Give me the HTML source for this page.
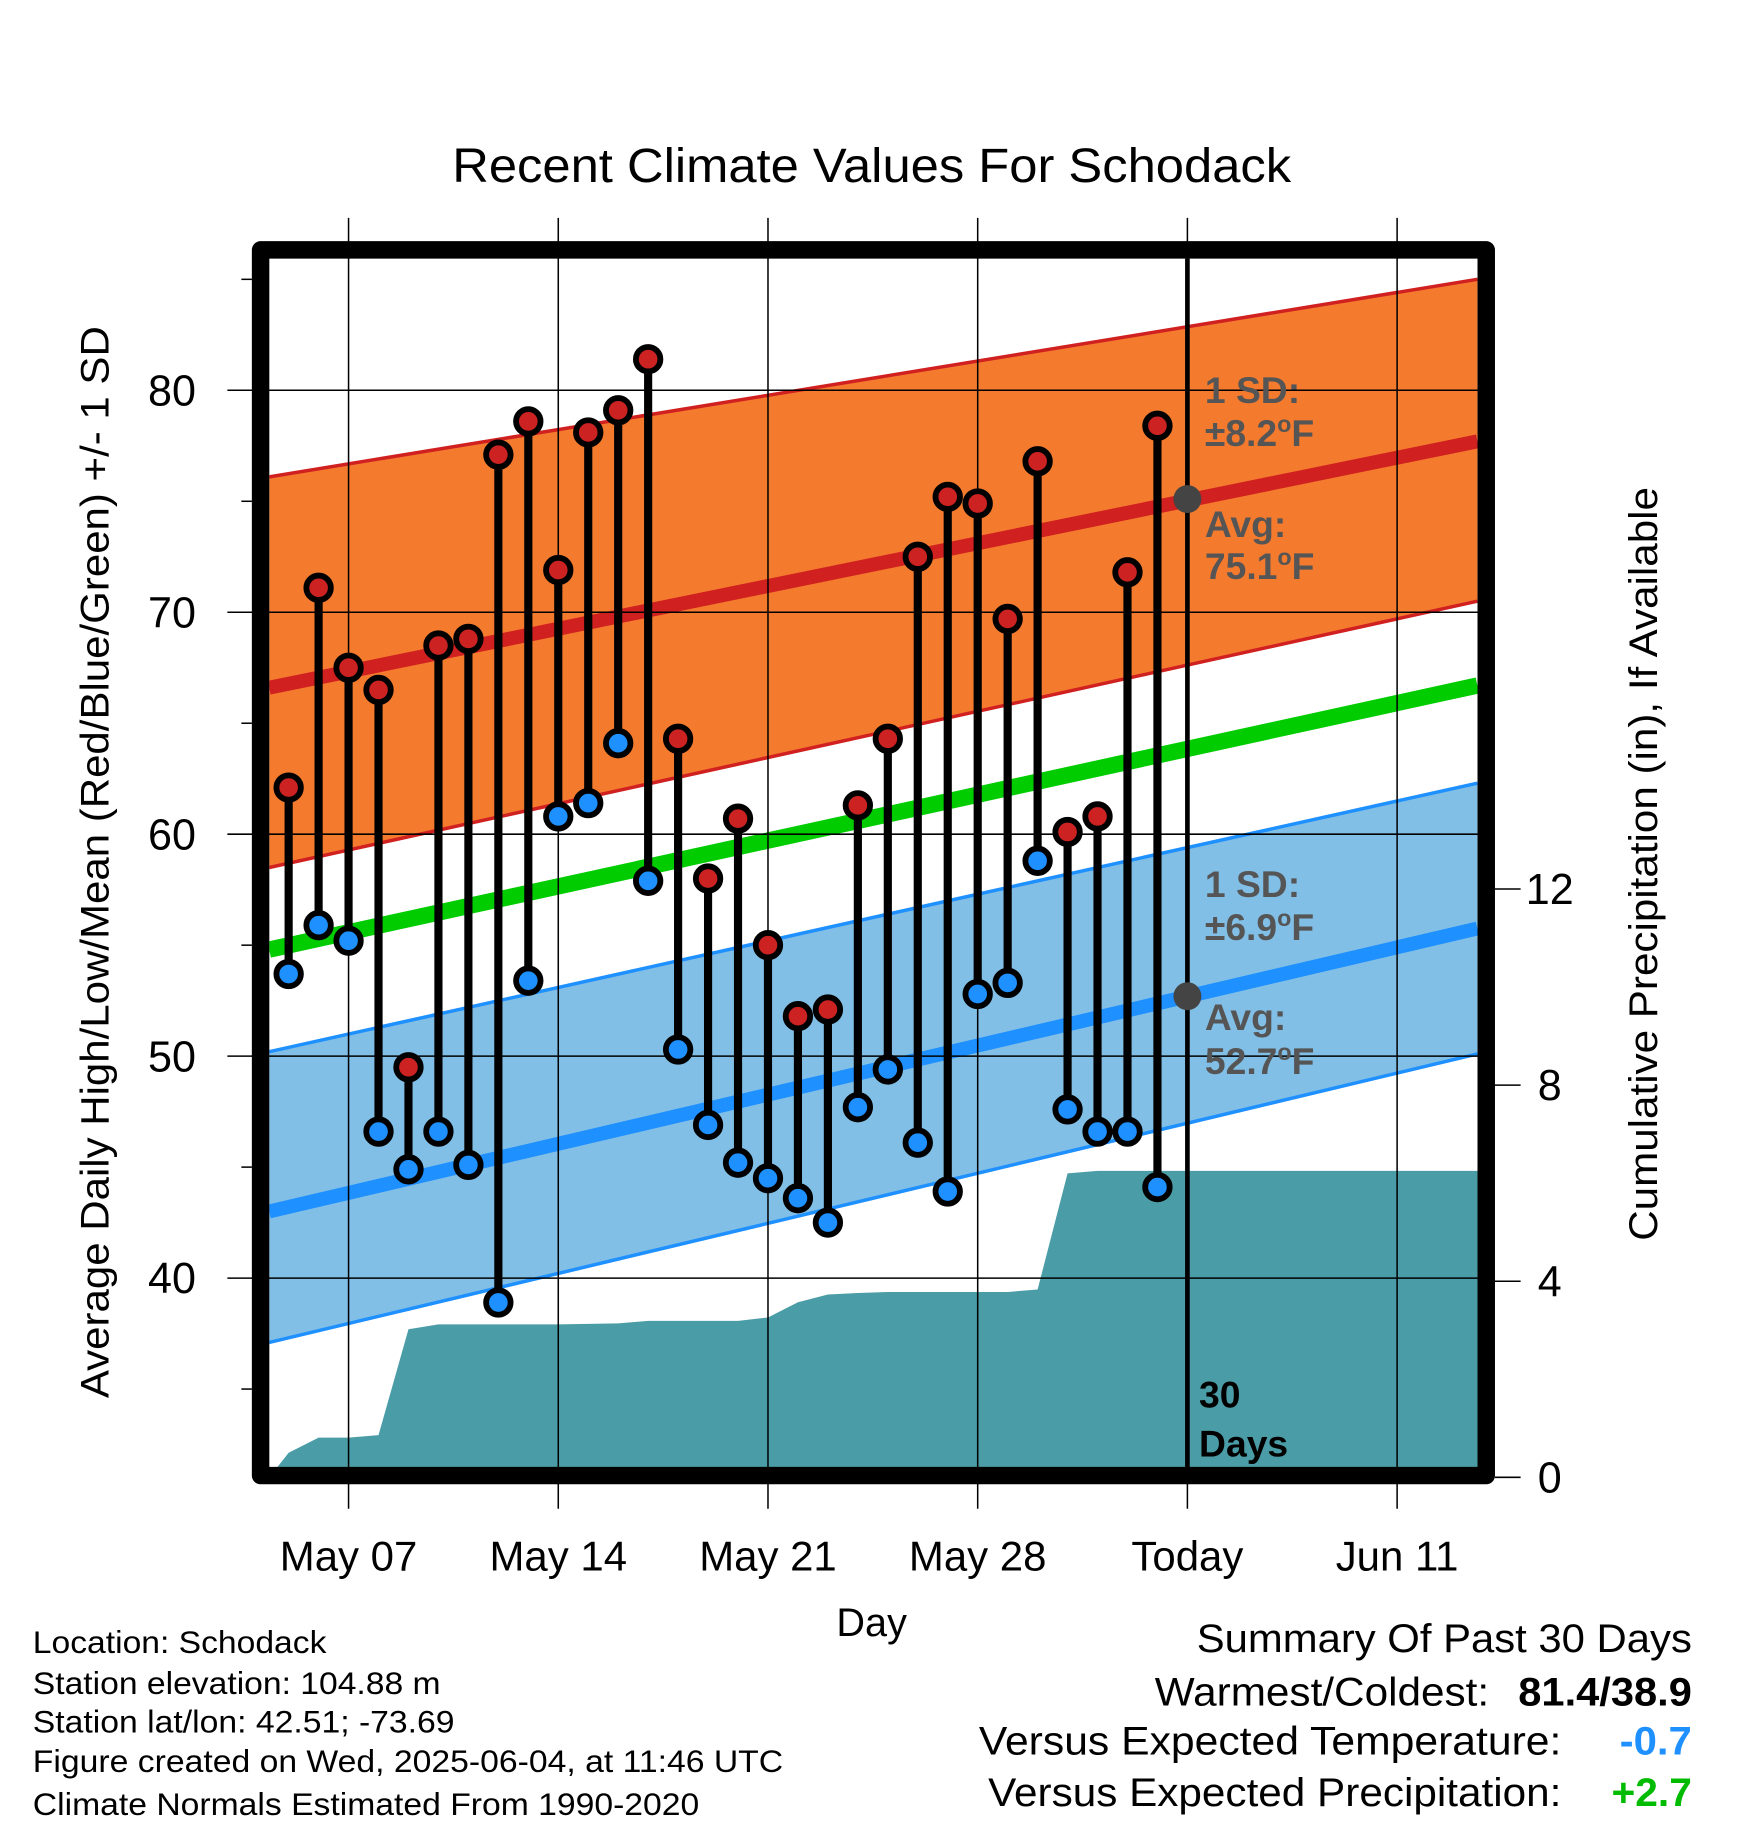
<!DOCTYPE html>
<html><head><meta charset="utf-8">
<style>
html,body{margin:0;padding:0;background:#fff;}
svg{display:block;font-family:"Liberation Sans",sans-serif;}
</style></head>
<body>
<svg id="chart" width="1748" height="1828" viewBox="0 0 1500 1569" xmlns="http://www.w3.org/2000/svg">
<rect width="1500" height="1569" fill="#fff"/>
<text x="388" y="156" font-size="41" textLength="720" lengthAdjust="spacingAndGlyphs">Recent Climate Values For Schodack</text>
<g id="plot"></g>
<text x="748" y="1404" font-size="34" text-anchor="middle">Day</text>
<text transform="translate(93,1200) rotate(-90)" font-size="34" textLength="920" lengthAdjust="spacingAndGlyphs">Average Daily High/Low/Mean (Red/Blue/Green) +/- 1 SD</text>
<text transform="translate(1422,1065) rotate(-90)" font-size="34" textLength="647" lengthAdjust="spacingAndGlyphs">Cumulative Precipitation (in), If Available</text>
<g font-size="27" lengthAdjust="spacingAndGlyphs">
<text x="28" y="1419" textLength="252" lengthAdjust="spacingAndGlyphs">Location: Schodack</text>
<text x="28" y="1454" textLength="350" lengthAdjust="spacingAndGlyphs">Station elevation: 104.88 m</text>
<text x="28" y="1487" textLength="362" lengthAdjust="spacingAndGlyphs">Station lat/lon: 42.51; -73.69</text>
<text x="28" y="1521" textLength="644" lengthAdjust="spacingAndGlyphs">Figure created on Wed, 2025-06-04, at 11:46 UTC</text>
<text x="28" y="1558" textLength="572" lengthAdjust="spacingAndGlyphs">Climate Normals Estimated From 1990-2020</text>
</g>
<g font-size="34">
<text x="1027" y="1418" textLength="425" lengthAdjust="spacingAndGlyphs">Summary Of Past 30 Days</text>
<text x="991" y="1464" textLength="287" lengthAdjust="spacingAndGlyphs">Warmest/Coldest:</text>
<text x="1303" y="1464" font-weight="bold" textLength="149" lengthAdjust="spacingAndGlyphs">81.4/38.9</text>
<text x="840" y="1506" textLength="500" lengthAdjust="spacingAndGlyphs">Versus Expected Temperature:</text>
<text x="1390" y="1506" font-weight="bold" fill="#1e90ff" textLength="62" lengthAdjust="spacingAndGlyphs">-0.7</text>
<text x="848" y="1550" textLength="492" lengthAdjust="spacingAndGlyphs">Versus Expected Precipitation:</text>
<text x="1383" y="1550" font-weight="bold" fill="#00bb00" textLength="69" lengthAdjust="spacingAndGlyphs">+2.7</text>
</g>
</svg>
<script>
const days = [-30,-29,-28,-27,-26,-25,-24,-23,-22,-21,-20,-19,-18,-17,-16,-15,-14,-13,-12,-11,-10,-9,-8,-7,-6,-5,-4,-3,-2,-1];
const highs = [62.1,71.1,67.5,66.5,49.5,68.5,68.8,77.1,78.6,71.9,78.1,79.1,81.4,64.3,58.0,60.7,55.0,51.8,52.1,61.3,64.3,72.5,75.2,74.9,69.7,76.8,60.1,60.8,71.8,78.4];
const lows = [53.7,55.9,55.2,46.6,44.9,46.6,45.1,38.9,53.4,60.8,61.4,64.1,57.9,50.3,46.9,45.2,44.5,43.6,42.5,47.7,49.4,46.1,43.9,52.8,53.3,58.8,47.6,46.6,46.6,44.1];
const precip = [0.5,0.81,0.81,0.86,3.02,3.12,3.12,3.12,3.12,3.12,3.13,3.14,3.19,3.19,3.19,3.19,3.26,3.57,3.73,3.76,3.78,3.78,3.78,3.78,3.78,3.83,6.2,6.25,6.25,6.25];
const normDays = [-30.65, 9.68];
const normHighAvg = [66.6, 77.7];
const normHighUpper = [76.1, 85.0];
const normHighLower = [58.5, 70.5];
const normMean = [54.8, 66.7];
const normLowAvg = [43.0, 55.75];
const normLowUpper = [50.2, 62.3];
const normLowLower = [37.1, 50.1];
const xTickDays = [-28,-21,-14,-7,0,7];
const xTickLabels = ["May 07","May 14","May 21","May 28","Today","Jun 11"];
const yTicks = [40,50,60,70,80];
const yMinorTicks = [35,45,55,65,75,85];
const pTicks = [0,4,8,12];
const todayHigh = 75.1, todayLow = 52.7;

const L=231,R=1268,T=222,B=1260;
const X = d => 1019 + d*25.714;
const Y = v => 335 - (v-80)*19.05;
const PY = p => 1268 - p*42.08;
const NS="http://www.w3.org/2000/svg";
const plot=document.getElementById('plot');
function mk(tag, attrs, parent){const e=document.createElementNS(NS,tag);for(const k in attrs)e.setAttribute(k,attrs[k]);(parent||plot).appendChild(e);return e;}
const defs=mk('defs',{});
const cp=mk('clipPath',{id:'clip'},defs);mk('rect',{x:L,y:T,width:R-L,height:B-T},cp);
const g=mk('g',{'clip-path':'url(#clip)'});

function band(up,lo,fill,name){
  const pts=[[X(normDays[0]),Y(up[0])],[X(normDays[1]),Y(up[1])],[X(normDays[1]),Y(lo[1])],[X(normDays[0]),Y(lo[0])]];
  const p=mk('polygon',{points:pts.map(q=>q.join(',')).join(' '),fill:fill},g);
  
  
}
function line(arr,color,w,name){
  const l=mk('line',{x1:X(normDays[0]),y1:Y(arr[0]),x2:X(normDays[1]),y2:Y(arr[1]),stroke:color,'stroke-width':w},g);
  
  
}
band(normHighUpper,normHighLower,'#f47a2e','high-sd-band');
line(normHighUpper,'#d02020',3,'high-upper-line');
line(normHighLower,'#d02020',3,'high-lower-line');
line(normHighAvg,'#d02020',12,'high-avg-line');
band(normLowUpper,normLowLower,'#82bfe6','low-sd-band');
line(normLowUpper,'#1e90ff',3,'low-upper-line');
line(normLowLower,'#1e90ff',3,'low-lower-line');
line(normLowAvg,'#1e90ff',12,'low-avg-line');
line(normMean,'#00cc00',14,'mean-line');

let pp=[[L,PY(0)]];
days.forEach((d,i)=>pp.push([X(d),PY(precip[i])]));
pp.push([R,PY(precip[precip.length-1])]);pp.push([R,B+20]);pp.push([L,B+20]);
const pa=mk('polygon',{points:pp.map(q=>q.join(',')).join(' '),fill:'#4a9ca6'},g);



yTicks.forEach(v=>{
  const l=mk('line',{x1:195,x2:1283,y1:Y(v),y2:Y(v),stroke:'#000','stroke-width':1.3});
  
  
  const t=mk('text',{x:168,y:Y(v)+13,'font-size':37,'text-anchor':'end'});t.textContent=v;
  
  
});
yMinorTicks.forEach(v=>{mk('line',{x1:207,x2:216,y1:Y(v),y2:Y(v),stroke:'#000','stroke-width':1.3});});
xTickDays.forEach((d,i)=>{
  const l=mk('line',{x1:X(d),x2:X(d),y1:187,y2:1295,stroke:'#000','stroke-width':1.3});
  
  
  const t=mk('text',{x:X(d),y:1348,'font-size':36,'text-anchor':'middle'});t.textContent=xTickLabels[i];
  
  
});
pTicks.forEach(p=>{
  mk('line',{x1:1283,x2:1305,y1:PY(p),y2:PY(p),stroke:'#000','stroke-width':1.3});
  const t=mk('text',{x:1330,y:PY(p)+13,'font-size':37,'text-anchor':'middle'});t.textContent=p;
  
  
});

const tl=mk('line',{x1:X(0),x2:X(0),y1:T,y2:B,stroke:'#000','stroke-width':4});



days.forEach((d,i)=>{
  const s=mk('line',{x1:X(d),x2:X(d),y1:Y(highs[i]),y2:Y(lows[i]),stroke:'#000','stroke-width':7});
  
  
});
days.forEach((d,i)=>{
  const h=mk('circle',{cx:X(d),cy:Y(highs[i]),r:10.5,fill:'#cc2222',stroke:'#000','stroke-width':5});
  
  
  const l=mk('circle',{cx:X(d),cy:Y(lows[i]),r:10.5,fill:'#1e90ff',stroke:'#000','stroke-width':5});
  
  
});
const gh=mk('circle',{cx:X(0),cy:Y(todayHigh),r:12,fill:'#444'});


const gl=mk('circle',{cx:X(0),cy:Y(todayLow),r:12,fill:'#444'});



function txt(x,y,s,fill,name){const t=mk('text',{x:x,y:y,'font-size':32,'font-weight':'bold',fill:fill});t.innerHTML=s;
  
  return t;}
txt(1034,346,'1 SD:','#555','high-sd-label');
txt(1034,383,'±8.2<tspan dy="-12" font-size="20">o</tspan><tspan dy="12">F</tspan>','#555','high-sd-value');
txt(1034,461,'Avg:','#555','high-avg-label');
txt(1034,497,'75.1<tspan dy="-12" font-size="20">o</tspan><tspan dy="12">F</tspan>','#555','high-avg-value');
txt(1034,770,'1 SD:','#555','low-sd-label');
txt(1034,807,'±6.9<tspan dy="-12" font-size="20">o</tspan><tspan dy="12">F</tspan>','#555','low-sd-value');
txt(1034,884,'Avg:','#555','low-avg-label');
txt(1034,922,'52.7<tspan dy="-12" font-size="20">o</tspan><tspan dy="12">F</tspan>','#555','low-avg-value');
txt(1029,1208,'30','#000','days-count');
txt(1029,1250,'Days','#000','days-label');

const fr=mk('rect',{x:223.5,y:214.5,width:1052,height:1052,fill:'none',stroke:'#000','stroke-width':15,'stroke-linejoin':'round'});


</script>
</body></html>
